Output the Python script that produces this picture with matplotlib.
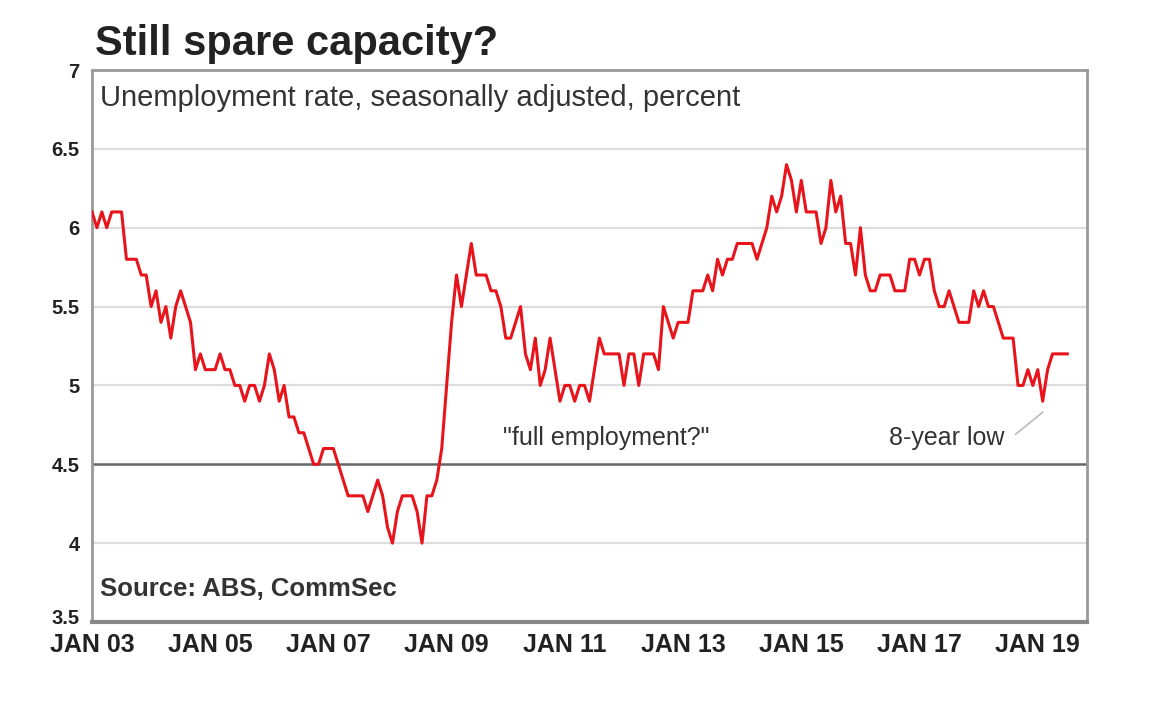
import matplotlib
matplotlib.use("Agg")
import matplotlib.pyplot as plt
import matplotlib.transforms as mtransforms
import numpy as np

# Monthly unemployment rate, Jan 2003 onward (percent, SA)
rate = [
    6.1, 6.0, 6.1, 6.0, 6.1, 6.1, 6.1, 5.8, 5.8, 5.8, 5.7, 5.7,   # 2003
    5.5, 5.6, 5.4, 5.5, 5.3, 5.5, 5.6, 5.5, 5.4, 5.1, 5.2, 5.1,   # 2004
    5.1, 5.1, 5.2, 5.1, 5.1, 5.0, 5.0, 4.9, 5.0, 5.0, 4.9, 5.0,   # 2005
    5.2, 5.1, 4.9, 5.0, 4.8, 4.8, 4.7, 4.7, 4.6, 4.5, 4.5, 4.6,   # 2006
    4.6, 4.6, 4.5, 4.4, 4.3, 4.3, 4.3, 4.3, 4.2, 4.3, 4.4, 4.3,   # 2007
    4.1, 4.0, 4.2, 4.3, 4.3, 4.3, 4.2, 4.0, 4.3, 4.3, 4.4, 4.6,   # 2008
    5.0, 5.4, 5.7, 5.5, 5.7, 5.9, 5.7, 5.7, 5.7, 5.6, 5.6, 5.5,   # 2009
    5.3, 5.3, 5.4, 5.5, 5.2, 5.1, 5.3, 5.0, 5.1, 5.3, 5.1, 4.9,   # 2010
    5.0, 5.0, 4.9, 5.0, 5.0, 4.9, 5.1, 5.3, 5.2, 5.2, 5.2, 5.2,   # 2011
    5.0, 5.2, 5.2, 5.0, 5.2, 5.2, 5.2, 5.1, 5.5, 5.4, 5.3, 5.4,   # 2012
    5.4, 5.4, 5.6, 5.6, 5.6, 5.7, 5.6, 5.8, 5.7, 5.8, 5.8, 5.9,   # 2013
    5.9, 5.9, 5.9, 5.8, 5.9, 6.0, 6.2, 6.1, 6.2, 6.4, 6.3, 6.1,   # 2014
    6.3, 6.1, 6.1, 6.1, 5.9, 6.0, 6.3, 6.1, 6.2, 5.9, 5.9, 5.7,   # 2015
    6.0, 5.7, 5.6, 5.6, 5.7, 5.7, 5.7, 5.6, 5.6, 5.6, 5.8, 5.8,   # 2016
    5.7, 5.8, 5.8, 5.6, 5.5, 5.5, 5.6, 5.5, 5.4, 5.4, 5.4, 5.6,   # 2017
    5.5, 5.6, 5.5, 5.5, 5.4, 5.3, 5.3, 5.3, 5.0, 5.0, 5.1, 5.0,   # 2018
    5.1, 4.9, 5.1, 5.2, 5.2, 5.2, 5.2,                            # 2019
]
tick_labels = ["JAN 03", "JAN 05", "JAN 07", "JAN 09", "JAN 11",
               "JAN 13", "JAN 15", "JAN 17", "JAN 19"]
y_ticks = [3.5, 4, 4.5, 5, 5.5, 6, 6.5, 7]
y_tick_labels = ["3.5", "4", "4.5", "5", "5.5", "6", "6.5", "7"]

plt.rcParams['font.family'] = ['Liberation Sans', 'DejaVu Sans']

fig = plt.figure(figsize=(11.6, 7.04), dpi=100)
ax = fig.add_axes([92/1160, 1-622/704, (1087-92)/1160, (622-70)/704])

months = np.arange(len(rate))
ax.plot(months, rate, color="#e8141c", lw=2.2, zorder=3)

ax.set_xlim(0, 202)
ax.set_ylim(3.5, 7)
ax.set_yticks(y_ticks)
ax.set_yticklabels(y_tick_labels, fontsize=14.5, fontweight="bold", color="#222222")
ax.set_xticks(np.arange(0, 24*len(tick_labels), 24))
ax.set_xticklabels(tick_labels, fontsize=18, fontweight="bold", color="#222222")
ax.tick_params(axis="both", length=0)
ax.tick_params(axis="x", pad=8)
ax.tick_params(axis="y", pad=9)

# lift the bottom y label slightly so it clears the first x label
lbl0 = ax.get_yticklabels()[0]
lbl0.set_transform(lbl0.get_transform() +
                   mtransforms.ScaledTranslation(0, 6/100, fig.dpi_scale_trans))

for v in y_ticks[1:-1]:
    if v == 4.5:
        ax.axhline(v, color="#666666", lw=1.8, zorder=1)
    else:
        ax.axhline(v, color="#dddddd", lw=1.6, zorder=1)

for side in ["left", "right", "top"]:
    ax.spines[side].set_color("#999999")
    ax.spines[side].set_linewidth(2.0)
ax.spines["bottom"].set_color("#888888")
ax.spines["bottom"].set_linewidth(3.0)

fig.text(95/1160, 1-44/704, "Still spare capacity?", fontsize=30,
         fontweight="bold", color="#222222", va="center", ha="left")
ax.text(0.008, 0.95, "Unemployment rate, seasonally adjusted, percent",
        transform=ax.transAxes, fontsize=21, color="#333333",
        va="center", ha="left")
ax.text(0.008, 0.06, "Source: ABS, CommSec", transform=ax.transAxes,
        fontsize=18.5, fontweight="bold", color="#333333", va="center", ha="left")
ax.text(104.5, 4.665, '"full employment?"', fontsize=18, color="#333333",
        ha="center", va="center")
ax.text(173.5, 4.665, "8-year low", fontsize=18, color="#333333",
        ha="center", va="center")
ax.plot([187.5, 193.0], [4.69, 4.83], color="#bbbbbb", lw=1.2, zorder=2)

fig.savefig("out.png", dpi=100, facecolor="white")
